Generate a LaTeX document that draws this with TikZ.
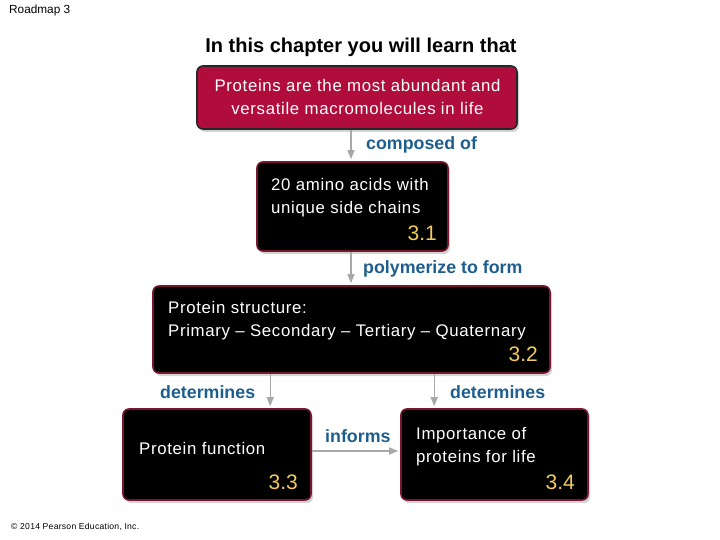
\documentclass[tikz,border=0pt]{standalone}
\usepackage{fontspec}
\setmainfont{Liberation Sans}
\usetikzlibrary{shadows,arrows.meta,calc}
\definecolor{crim}{HTML}{B00D3C}
\definecolor{bord}{HTML}{7A1530}
\definecolor{lblue}{HTML}{1E5E8E}
\definecolor{gold}{HTML}{F2CB5C}
\definecolor{agrey}{HTML}{A8A8A8}
\tikzset{
  box/.style={draw=bord, line width=1.6pt, rounded corners=6pt, fill=black, inner sep=0,
    drop shadow={shadow xshift=2pt, shadow yshift=-3pt, opacity=0.35, fill=gray}},
  redbox/.style={box, fill=crim, draw=black!85},
  txt/.style={text=white, font=\fontsize{16.8}{23}\selectfont\addfontfeatures{LetterSpace=4}, align=left, inner sep=0},
  num/.style={text=gold, font=\fontsize{21}{21}\selectfont, inner sep=0},
  lbl/.style={text=lblue, font=\fontsize{17.8}{17.8}\selectfont\bfseries, inner sep=0},
  arr/.style={draw=agrey, line width=1.3pt, -{Triangle[width=7pt,length=9pt]}, shorten >=2pt},
}
\begin{document}
\begin{tikzpicture}[x=1pt,y=-1pt]
\useasboundingbox (0,0) rectangle (720,540);
\node[anchor=west, font=\fontsize{11.8}{11.8}\selectfont, inner sep=0] (rm) at (9,10) {Roadmap 3};
\node[font=\fontsize{20}{20}\selectfont\bfseries, inner sep=0] (title) at (361,47) {In this chapter you will learn that};
\node[anchor=west, font=\fontsize{8.6}{8.6}\selectfont\addfontfeatures{LetterSpace=3}, inner sep=0] (copy) at (11,527) {\textcopyright{} 2014 Pearson Education, Inc.};

\node[redbox, minimum width=320pt, minimum height=63pt] (B1) at (357,97.5) {};
\node[txt, align=center] (t1) at (357.5,97) {Proteins are the most abundant and\\versatile macromolecules in life};

\node[box, minimum width=191pt, minimum height=89pt] (B2) at (352.5,206.5) {};
\node[txt, anchor=north west] (t2) at (271,178.5) {20 amino acids with\\unique side chains};
\node[num, anchor=east] (n2) at (437,233) {3.1};

\node[box, minimum width=397pt, minimum height=87pt] (B3) at (351.5,329.5) {};
\node[txt, anchor=north west] (t3) at (168,301) {Protein structure:\\Primary -- Secondary -- Tertiary -- Quaternary};
\node[num, anchor=east] (n3) at (538,354) {3.2};

\node[box, minimum width=188pt, minimum height=91pt] (B4) at (217,454.5) {};
\node[txt, anchor=west] (t4) at (139,448) {Protein function};
\node[num, anchor=east] (n4) at (298,482) {3.3};

\node[box, minimum width=187pt, minimum height=91pt] (B5) at (494.5,454.5) {};
\node[txt, anchor=north west] (t5) at (416,427.5) {Importance of\\proteins for life};
\node[num, anchor=east] (n5) at (575,482) {3.4};

\draw[arr] ($(B1.south)+(-6,0)$) -- ($(B2.north)+(-1.5,0)$);
\draw[arr] ($(B2.south)+(-1.5,0)$) -- ($(B3.north)+(-0.5,0)$);
\draw[arr] ($(B3.south west)+(118,0)$) -- ($(B4.north west)+(148,0)$);
\draw[arr] ($(B3.south west)+(282,0)$) -- ($(B5.north west)+(34,0)$);
\draw[arr] ($(B4.east)+(0,-3.5)$) -- ($(B5.west)+(0,-3.5)$);

\node[lbl, anchor=west] (l1) at (366,145) {composed of};
\node[lbl, anchor=west] (l2) at (363,269) {polymerize to form};
\node[lbl, anchor=west] (l3) at (160,392) {determines};
\node[lbl, anchor=west] (l4) at (450,392) {determines};
\node[lbl, anchor=west] (l5) at (325,436) {informs};
\end{tikzpicture}
\end{document}
